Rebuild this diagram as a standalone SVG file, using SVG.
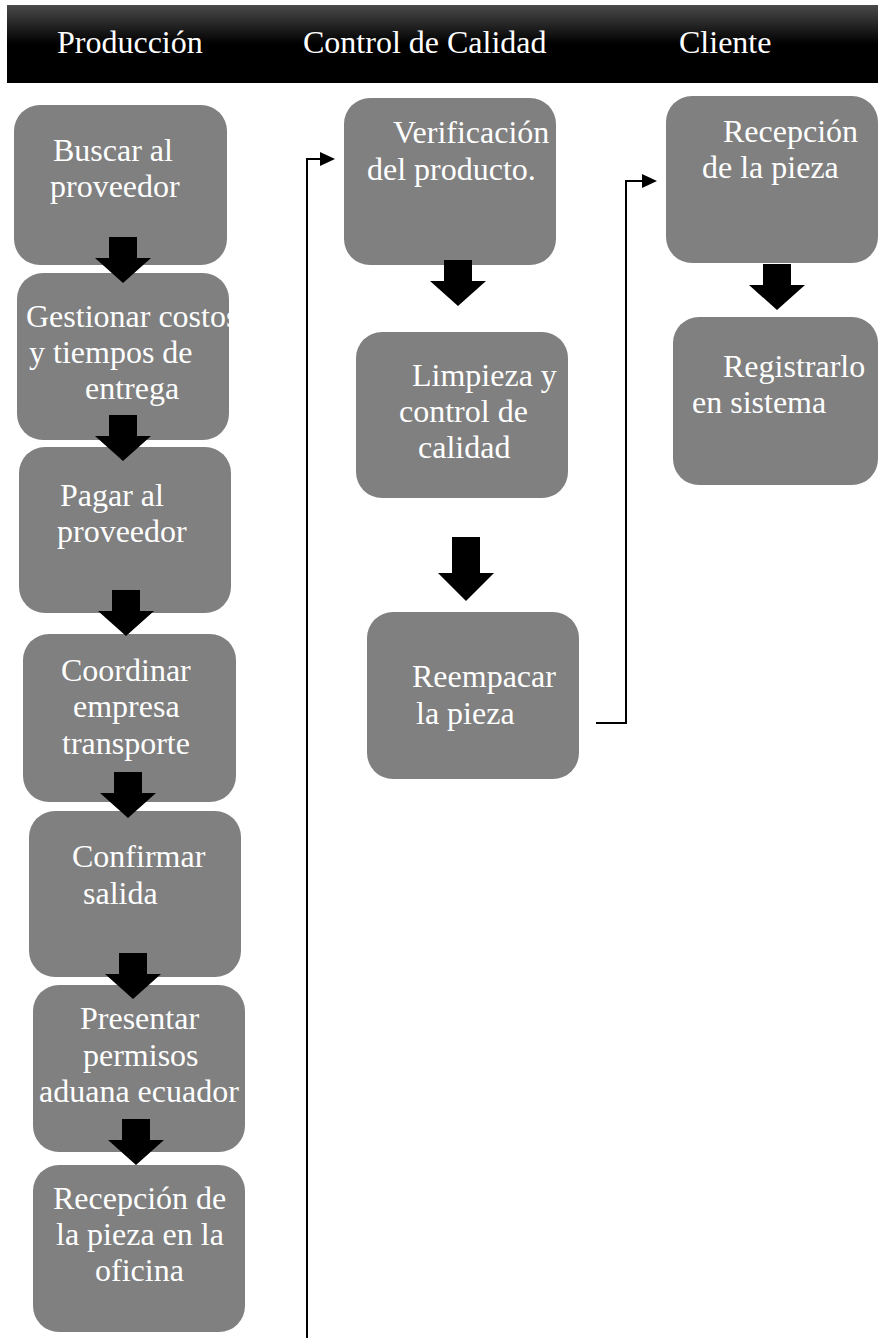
<svg xmlns="http://www.w3.org/2000/svg" xmlns:xlink="http://www.w3.org/1999/xlink" width="878" height="1338" viewBox="0 0 878 1338">
<style>
.node{fill:#808080;}
.t{font-family:"Liberation Serif","Times New Roman",serif;font-size:32px;fill:#ffffff;}
.conn{fill:none;stroke:#000;stroke-width:2;}
.blk{fill:#000;}
</style>
<defs>
<linearGradient id="hdr" x1="0" y1="0" x2="0" y2="1">
<stop offset="0" stop-color="#4a4a4a"/>
<stop offset="0.5" stop-color="#000"/>
<stop offset="1" stop-color="#000"/>
</linearGradient>
<path id="barrow" d="M-14,-46 H14 V-25 H28 L0,0 L-28,-25 H-14 Z"/>
<marker id="ah" markerWidth="15" markerHeight="14" refX="0" refY="7" orient="auto" markerUnits="userSpaceOnUse">
<path d="M0,0 L15,7 L0,14 Z" fill="#000"/>
</marker>
</defs>
<rect width="878" height="1338" fill="#fff"/>
<g id="header">
<rect x="7" y="5" width="871" height="78" fill="url(#hdr)"/>
<text class="t" x="57" y="53">Producción</text>
<text class="t" x="303" y="53">Control de Calidad</text>
<text class="t" x="679" y="53">Cliente</text>
</g>
<g id="n1"><rect class="node" x="14" y="105" width="213" height="160" rx="26"/>
<text class="t" x="53" y="161">Buscar al</text><text class="t" x="50" y="197">proveedor</text></g>
<g id="n2"><rect class="node" x="17" y="273" width="212" height="167" rx="26"/>
<text class="t" x="26" y="327">Gestionar costos</text><text class="t" x="29" y="363">y tiempos de</text><text class="t" x="85" y="399">entrega</text></g>
<g id="n3"><rect class="node" x="19" y="447" width="212" height="166" rx="26"/>
<text class="t" x="60" y="506">Pagar al</text><text class="t" x="57" y="542">proveedor</text></g>
<g id="n4"><rect class="node" x="23" y="634" width="213" height="168" rx="26"/>
<text class="t" x="61" y="681">Coordinar</text><text class="t" x="73" y="717">empresa</text><text class="t" x="62" y="754">transporte</text></g>
<g id="n5"><rect class="node" x="29" y="811" width="212" height="166" rx="26"/>
<text class="t" x="72" y="867">Confirmar</text><text class="t" x="83" y="904">salida</text></g>
<g id="n6"><rect class="node" x="33" y="985" width="212" height="167" rx="26"/>
<text class="t" x="80" y="1029">Presentar</text><text class="t" x="83" y="1066">permisos</text><text class="t" x="39" y="1102">aduana ecuador</text></g>
<g id="n7"><rect class="node" x="33" y="1165" width="212" height="167" rx="26"/>
<text class="t" x="53" y="1209">Recepción de</text><text class="t" x="56" y="1245">la pieza en la</text><text class="t" x="95" y="1281">oficina</text></g>
<g id="nA"><rect class="node" x="344" y="98" width="212" height="167" rx="26"/>
<text class="t" x="393" y="143">Verificación</text><text class="t" x="367" y="180">del producto.</text></g>
<g id="nB"><rect class="node" x="356" y="332" width="212" height="166" rx="26"/>
<text class="t" x="412" y="386">Limpieza y</text><text class="t" x="399" y="422">control de</text><text class="t" x="418" y="458">calidad</text></g>
<g id="nC"><rect class="node" x="367" y="612" width="212" height="167" rx="26"/>
<text class="t" x="412" y="687">Reempacar</text><text class="t" x="416" y="724">la pieza</text></g>
<g id="nD"><rect class="node" x="666" y="96" width="212" height="167" rx="26"/>
<text class="t" x="723" y="142">Recepción</text><text class="t" x="702" y="178">de la pieza</text></g>
<g id="nE"><rect class="node" x="673" y="317" width="205" height="168" rx="26"/>
<text class="t" x="723" y="377">Registrarlo</text><text class="t" x="692" y="413">en sistema</text></g>
<g id="connectors">
<path class="conn" d="M307,1338 V159 H320" marker-end="url(#ah)"/>
<path class="conn" d="M596,723 H626 V181 H642" marker-end="url(#ah)"/>
<use href="#barrow" class="blk" x="123" y="283"/>
<use href="#barrow" class="blk" x="123" y="461"/>
<use href="#barrow" class="blk" x="126" y="636"/>
<use href="#barrow" class="blk" x="128" y="818"/>
<use href="#barrow" class="blk" x="133" y="999"/>
<use href="#barrow" class="blk" x="136" y="1165"/>
<use href="#barrow" class="blk" x="458" y="306"/>
<path class="blk" d="M452,537 H480 V573 H494 L466,601 L438,573 H452 Z"/>
<use href="#barrow" class="blk" x="777" y="310"/>
</g>
</svg>
